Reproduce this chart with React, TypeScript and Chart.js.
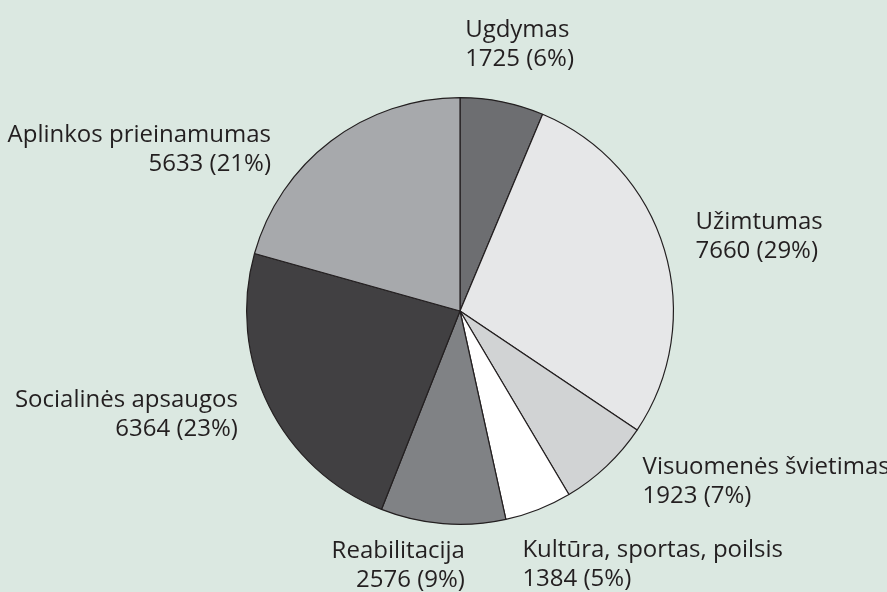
import React, { useEffect, useRef } from "react";
import { Chart, registerables } from "chart.js";

Chart.register(...registerables);

const categories = [
  "Ugdymas",
  "Užimtumas",
  "Visuomenės švietimas",
  "Kultūra, sportas, poilsis",
  "Reabilitacija",
  "Socialinės apsaugos",
  "Aplinkos prieinamumas",
];
const values = [1725, 7660, 1923, 1384, 2576, 6364, 5633];
const percents = ["6%", "29%", "7%", "5%", "9%", "23%", "21%"];
const colors = ["#6d6e71", "#e6e7e8", "#d1d3d4", "#ffffff", "#808285", "#414042", "#a7a9ac"];

// label placement style relative to slice mid-point on outer edge (baseline of first line)
const labelAlign: CanvasTextAlign[] = ["left", "left", "left", "left", "right", "right", "right"];
const labelDx = [-37, 31, 36, -16, 22, -31, -60];
const labelDy = [-65, -20.5, 7.5, 48, 34, 1, 1.5];
const LINE_GAP = 29;

const BG = "#dbe8e1";
const TEXT = "#231f20";

const labelPlugin = {
  id: "sliceLabels",
  afterDraw(chart: any) {
    const ctx = chart.ctx;
    const meta = chart.getDatasetMeta(0);
    ctx.save();
    ctx.font = '24px "Open Sans", sans-serif';
    ctx.fillStyle = TEXT;
    ctx.textBaseline = "alphabetic";
    meta.data.forEach((arc: any, i: number) => {
      const p = arc.getProps(["x", "y", "startAngle", "endAngle", "outerRadius"], true);
      const mid = (p.startAngle + p.endAngle) / 2;
      const ax = p.x + Math.cos(mid) * p.outerRadius + labelDx[i];
      const ay = p.y + Math.sin(mid) * p.outerRadius + labelDy[i];
      ctx.textAlign = labelAlign[i];
      ctx.fillText(categories[i], ax, ay);
      ctx.fillText(`${values[i]} (${percents[i]})`, ax, ay + LINE_GAP);
    });
    ctx.restore();
  },
};

export default function App() {
  const ref = useRef<HTMLCanvasElement | null>(null);
  useEffect(() => {
    if (!ref.current) return;
    const chart = new Chart(ref.current, {
      type: "pie",
      data: {
        labels: categories,
        datasets: [
          {
            data: values,
            backgroundColor: colors,
            borderColor: TEXT,
            borderWidth: 1.2,
          },
        ],
      },
      options: {
        animation: false,
        responsive: false,
        layout: { padding: { top: 97, bottom: 67, left: 246, right: 213 } },
        plugins: {
          legend: { display: false },
          tooltip: { enabled: false },
        },
      },
      plugins: [labelPlugin],
    });
    return () => chart.destroy();
  }, []);
  return (
    <div style={{ position: "fixed", left: 0, top: 0, width: 887, height: 592, background: BG }}>
      <canvas ref={ref} width={887} height={592} style={{ display: "block" }} />
    </div>
  );
}
